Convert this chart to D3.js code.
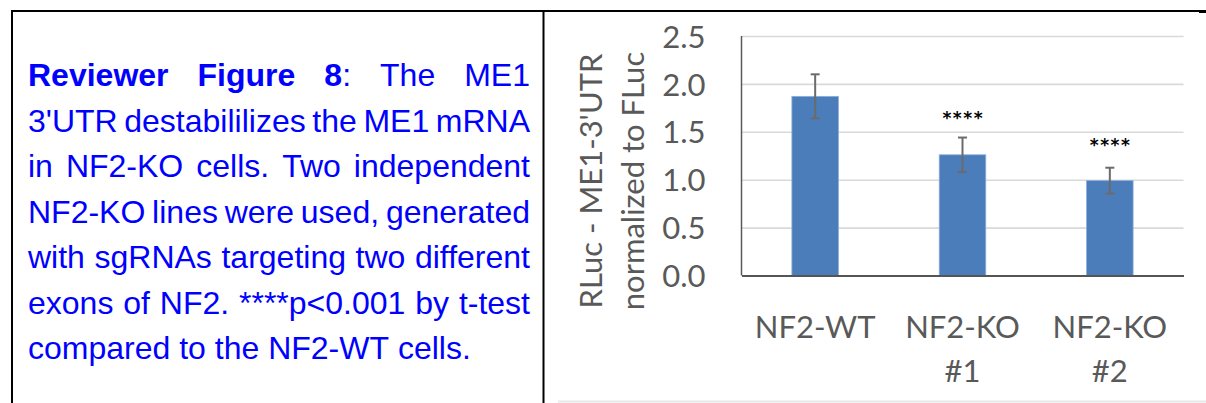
<!DOCTYPE html>
<html>
<head>
<meta charset="utf-8">
<script src="https://cdn.jsdelivr.net/npm/d3@7"></script>
<style>
  html, body { margin: 0; padding: 0; background: #fff; }
  svg { display: block; }
</style>
</head>
<body>
<svg id="fig" width="1206" height="403"></svg>
<script>
// ---- data ----
const categories = ["NF2-WT", "NF2-KO #1", "NF2-KO #2"];
const categoryLines = [["NF2-WT"], ["NF2-KO", "#1"], ["NF2-KO", "#2"]];
const means = [1.87, 1.26, 0.99];
const errors = [0.23, 0.18, 0.135];
const significance = ["", "****", "****"];
const significanceLevels = [0, 1.68, 1.40];
const yTicks = [0, 0.5, 1.0, 1.5, 2.0, 2.5];
const yTitleLines = ["RLuc - ME1-3'UTR", "normalized to FLuc"];

// caption: each line is a list of words, each word a list of [text, bold] runs
const captionLines = [
  [[["Reviewer", true]], [["Figure", true]], [["8", true], [":", false]], [["The", false]], [["ME1", false]]],
  "3'UTR destabililizes the ME1 mRNA".split(" ").map(w => [[w, false]]),
  "in NF2-KO cells. Two independent".split(" ").map(w => [[w, false]]),
  "NF2-KO lines were used, generated".split(" ").map(w => [[w, false]]),
  "with sgRNAs targeting two different".split(" ").map(w => [[w, false]]),
  "exons of NF2. ****p<0.001 by t-test".split(" ").map(w => [[w, false]]),
  "compared to the NF2-WT cells.".split(" ").map(w => [[w, false]])
];

const svg = d3.select("#fig");

// ---- table frame ----
const frame = svg.append("g").attr("stroke", "#000").attr("stroke-width", 2);
frame.append("line").attr("x1", 11).attr("x2", 1206).attr("y1", 11).attr("y2", 11);
frame.append("line").attr("x1", 12).attr("x2", 12).attr("y1", 10).attr("y2", 403);
frame.append("line").attr("x1", 543.5).attr("x2", 543.5).attr("y1", 10).attr("y2", 403);
svg.append("rect").attr("x", 1199).attr("y", 10).attr("width", 7).attr("height", 3).attr("fill", "#000");
svg.append("line").attr("x1", 558).attr("x2", 1206).attr("y1", 401.5).attr("y2", 401.5)
  .attr("stroke", "#e8e8e8").attr("stroke-width", 2);

// ---- caption (justified lines) ----
const capSize = 32;
const cap = svg.append("g")
  .attr("font-family", "'Liberation Sans', Arial, sans-serif")
  .attr("font-size", capSize)
  .attr("fill", "#0000ff");
const capLeft = 28, capRight = 530, capTop = 86, capStep = 45.5;
captionLines.forEach((words, li) => {
  const yb = capTop + li * capStep;
  const nodes = words.map(runs => {
    const t = cap.append("text").attr("y", yb);
    runs.forEach(([s, b]) => t.append("tspan").text(s).attr("font-weight", b ? "bold" : "normal"));
    return t;
  });
  const widths = nodes.map(t => t.node().getComputedTextLength());
  const total = d3.sum(widths);
  const last = li === captionLines.length - 1;
  const spaceW = capSize * 0.278;
  const gap = last ? spaceW : (capRight - capLeft - total) / (nodes.length - 1);
  let x = capLeft;
  nodes.forEach((t, i) => { t.attr("x", x); x += widths[i] + gap; });
});

// ---- chart ----
const x0 = 741.5, x1 = 1183.5, yBase = 275.5, yTop = 36;
const x = d3.scaleBand().domain(categories).range([x0, x1]).padding(0);
const y = d3.scaleLinear().domain([0, 2.5]).range([yBase, yTop]);
const barW = x.bandwidth() * 0.316;
const textGray = "#595959";
const chartFont = "Lato, 'Open Sans', sans-serif";

// gridlines
svg.append("g")
  .attr("transform", `translate(${x0},0)`)
  .call(d3.axisLeft(y).tickValues(yTicks.slice(1)).tickSize(-(x1 - x0)).tickFormat(""))
  .call(g => g.select(".domain").remove())
  .call(g => g.selectAll(".tick line").attr("stroke", "#d9d9d9").attr("stroke-width", 1.6));

// y tick labels
svg.append("g")
  .attr("transform", `translate(${x0},0)`)
  .call(d3.axisLeft(y).tickValues(yTicks).tickSize(0).tickPadding(36).tickFormat(d3.format(".1f")))
  .call(g => g.select(".domain").remove())
  .call(g => g.selectAll(".tick text")
    .attr("fill", textGray).attr("font-family", chartFont).attr("font-size", 31)
    .attr("dy", "0.36em"));

// bars
svg.append("g").selectAll("rect").data(categories).join("rect")
  .attr("x", (d) => x(d) + x.bandwidth() / 2 - barW / 2)
  .attr("width", barW)
  .attr("y", (d, i) => y(means[i]))
  .attr("height", (d, i) => y(0) - y(means[i]))
  .attr("fill", "#4a7dba")
  .attr("stroke", "#8eaedb")
  .attr("stroke-width", 0.8);

// error bars
const eb = svg.append("g").attr("stroke", "#6b6b6b").attr("stroke-width", 2);
categories.forEach((c, i) => {
  const cx = x(c) + x.bandwidth() / 2;
  const hi = y(means[i] + errors[i]), lo = y(means[i] - errors[i]);
  eb.append("line").attr("x1", cx).attr("x2", cx).attr("y1", hi).attr("y2", lo);
  eb.append("line").attr("x1", cx - 4.5).attr("x2", cx + 4.5).attr("y1", hi).attr("y2", hi);
  eb.append("line").attr("x1", cx - 4.5).attr("x2", cx + 4.5).attr("y1", lo).attr("y2", lo);
});

// significance marks
svg.append("g").selectAll("text").data(categories).join("text")
  .attr("x", d => x(d) + x.bandwidth() / 2 + 0.75)
  .attr("y", (d, i) => y(significanceLevels[i]))
  .attr("dy", "0.56em")
  .attr("text-anchor", "middle")
  .attr("font-family", "'DejaVu Sans', sans-serif")
  .attr("font-weight", "bold")
  .attr("font-size", 17)
  .attr("letter-spacing", 1.5)
  .attr("fill", "#000")
  .text((d, i) => significance[i]);

// axis lines
svg.append("line").attr("x1", x0).attr("x2", x0).attr("y1", yTop).attr("y2", yBase)
  .attr("stroke", "#595959").attr("stroke-width", 1.5);
svg.append("g")
  .attr("transform", `translate(0,${yBase})`)
  .call(d3.axisBottom(x).tickSize(0).tickFormat(""))
  .call(g => g.select(".domain").attr("stroke", "#555").attr("stroke-width", 2))
  .call(g => g.selectAll(".tick").each(function (d, i) {
    const t = d3.select(this).select("text")
      .attr("fill", textGray).attr("font-family", chartFont).attr("font-size", 31)
      .attr("y", 0).attr("dy", null);
    categoryLines[i].forEach((s, k) =>
      t.append("tspan").attr("x", 0).attr("y", 62 + k * 44).text(s));
  }));

// y axis title
const yt = svg.append("text")
  .attr("transform", `translate(602,${181}) rotate(-90)`)
  .attr("text-anchor", "middle")
  .attr("font-family", chartFont)
  .attr("font-size", 31)
  .attr("fill", textGray);
yTitleLines.forEach((s, k) => yt.append("tspan").attr("x", 0).attr("y", k * 41.5).text(s));
</script>
</body>
</html>
